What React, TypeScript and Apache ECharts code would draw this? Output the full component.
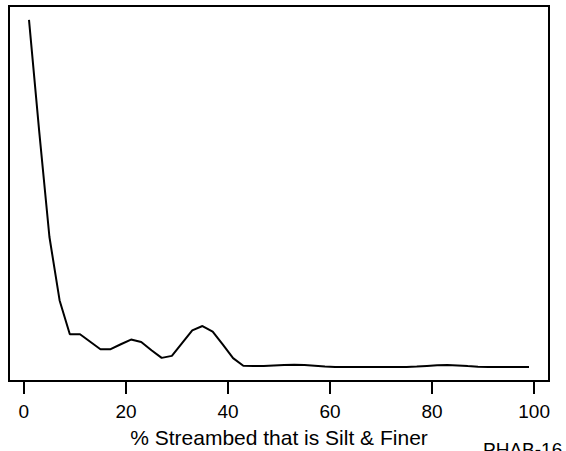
import React, { useEffect, useRef } from "react";
import * as echarts from "echarts";

const xValues = [1, 3, 5, 7, 9, 11, 13, 15, 17, 19, 21, 23, 25, 27, 29, 31, 33, 35, 37, 39, 41, 43, 45, 47, 49, 51, 53, 55, 57, 59, 61, 63, 65, 67, 69, 71, 73, 75, 77, 79, 81, 83, 85, 87, 89, 91, 93, 95, 97, 99];
const yValues = [34.9, 23.7, 13.1, 6.7, 3.3, 3.3, 2.55, 1.8, 1.8, 2.3, 2.77, 2.53, 1.7, 0.93, 1.13, 2.42, 3.7, 4.13, 3.57, 2.25, 0.9, 0.13, 0.1, 0.1, 0.15, 0.2, 0.24, 0.2, 0.13, 0.05, 0, 0, 0, 0, 0, 0, 0, 0, 0.05, 0.12, 0.18, 0.2, 0.17, 0.1, 0.04, 0, 0, 0, 0, 0];
const xTicks = [0, 20, 40, 60, 80, 100];
const xTitle = "% Streambed that is Silt & Finer";
const footnote = "PHAB-16";

export default function App() {
  const ref = useRef<HTMLDivElement>(null);
  useEffect(() => {
    if (!ref.current) return;
    const chart = echarts.init(ref.current, null, { renderer: "svg" });
    const xMin = Math.min(...xValues), xMax = Math.max(...xValues);
    const yMin = Math.min(...yValues), yMax = Math.max(...yValues);
    const xr = (xMax - xMin) * 0.04;
    const yr = (yMax - yMin) * 0.04;
    const font = "'Liberation Sans', Arial, sans-serif";
    chart.setOption({
      animation: false,
      backgroundColor: "#ffffff",
      grid: {
        left: 9,
        right: 17,
        top: 6,
        height: 375,
        containLabel: false,
        outerBoundsMode: "none",
        show: true,
        borderColor: "#000",
        borderWidth: 2,
        backgroundColor: "transparent",
      },
      xAxis: {
        type: "value",
        min: xMin - xr,
        max: xMax + xr,
        name: xTitle,
        nameLocation: "middle",
        nameGap: 46,
        nameTextStyle: { fontFamily: font, fontSize: 21, color: "#000" },
        axisLine: { show: false, onZero: false },
        splitLine: { show: false },
        axisTick: {
          show: true,
          inside: false,
          length: 13,
          customValues: xTicks,
          lineStyle: { color: "#000", width: 2 },
        },
        axisLabel: {
          customValues: xTicks,
          margin: 21,
          fontFamily: font,
          fontSize: 19,
          color: "#000",
        },
      },
      yAxis: {
        type: "value",
        min: yMin - yr,
        max: yMax + yr,
        axisLine: { show: false },
        axisTick: { show: false },
        axisLabel: { show: false },
        splitLine: { show: false },
      },
      series: [
        {
          type: "line",
          data: xValues.map((x, i) => [x, yValues[i]]),
          showSymbol: false,
          symbol: "none",
          smooth: false,
          lineStyle: { color: "#000", width: 2 },
        },
      ],
      graphic: [
        {
          type: "text",
          left: 483,
          top: 440,
          style: { text: footnote, fontFamily: font, fontSize: 19, fill: "#000" },
        },
      ],
    });
    return () => chart.dispose();
  }, []);
  return <div ref={ref} style={{ width: 566, height: 451, position: "absolute", left: 0, top: 0 }} />;
}
